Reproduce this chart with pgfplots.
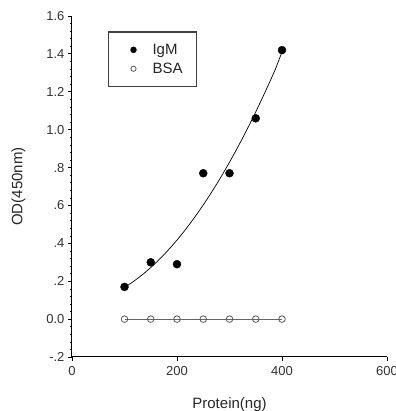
\documentclass[border=0pt]{standalone}
\usepackage{pgfplots}
\pgfplotsset{compat=1.18}
\usepackage{fontspec}
\setmainfont{Liberation Sans}
\begin{document}
\begin{tikzpicture}[x=1pt,y=1pt]
\useasboundingbox (-72,-54) rectangle (323,357);
\begin{axis}[at={(0,0)}, anchor=south west, scale only axis,
  width=315pt, height=341pt,
  xmin=0, xmax=600, ymin=-0.2, ymax=1.6,
  axis x line*=bottom, axis y line*=left,
  axis line style={line width=1pt, -},
  tick align=outside, tick style={black, line width=0.8pt},
  major tick length=4pt, minor tick length=2pt,
  xtick={0,200,400,600}, xticklabels={0,200,400,600},
  ytick={-0.2,0,0.2,0.4,0.6,0.8,1.0,1.2,1.4,1.6},
  yticklabels={-.2,0.0,.2,.4,.6,.8,1.0,1.2,1.4,1.6},
  minor y tick num=4,
  minor y tick style={line width=0.5pt},
  ticklabel style={font=\fontsize{13}{15}\selectfont, text=black!80},
  xticklabel style={yshift=-2pt},
  xlabel={Protein(ng)}, ylabel={OD(450nm)},
  every axis x label/.style={at={(axis description cs:0.5,-0.14)}, anchor=center,
    font=\fontsize{15}{17}\selectfont, text=black!85},
  every axis y label/.style={at={(axis description cs:-0.17,0.5)}, rotate=90, anchor=center,
    font=\fontsize{15}{17}\selectfont, text=black!85},
  legend style={at={(axis description cs:0.114,0.955)}, anchor=north west,
    draw=black!75, line width=1.2pt, inner xsep=10pt, inner ysep=10pt,
    font=\fontsize{15}{17}\selectfont, row sep=3pt,
    nodes={inner xsep=4pt, text=black!85}},
  legend image code/.code={%
    \path[draw=none, fill=none] (0pt,-3pt) rectangle (30pt,3pt);
    \draw[#1, mark size=2.6pt] plot coordinates {(15pt,0pt)};},
  legend cell align=left,
  clip=false,
]
% fitted curve
\addplot[black, line width=0.7pt, forget plot] coordinates {
(100,0.1674)(112.5,0.1898)(125,0.2148)(137.5,0.2422)(150,0.2722)(162.5,0.3046)
(175,0.3397)(187.5,0.3771)(200,0.4172)(212.5,0.4597)(225,0.5048)(237.5,0.5524)
(250,0.6025)(262.5,0.6552)(275,0.7102)(287.5,0.7679)(300,0.8280)(312.5,0.8907)
(325,0.9559)(337.5,1.0236)(350,1.0938)(362.5,1.1666)(375,1.2418)(387.5,1.3196)
(400,1.4100)};
% BSA line
\addplot[black!60, line width=0.7pt, forget plot] coordinates {
(100,0)(150,0)(200,0)(250,0)(300,0)(350,0)(400,0)};
\addplot[only marks, mark=*, mark size=4pt, black] coordinates {
(100,0.17)(150,0.30)(200,0.29)(250,0.77)(300,0.77)(350,1.06)(400,1.42)};
\addlegendentry{IgM}
\addplot[only marks, mark=o, mark size=3.3pt, black!65, mark options={line width=0.8pt, fill=white}] coordinates {
(100,0)(150,0)(200,0)(250,0)(300,0)(350,0)(400,0)};
\addlegendentry{BSA}
\end{axis}
\end{tikzpicture}
\end{document}
